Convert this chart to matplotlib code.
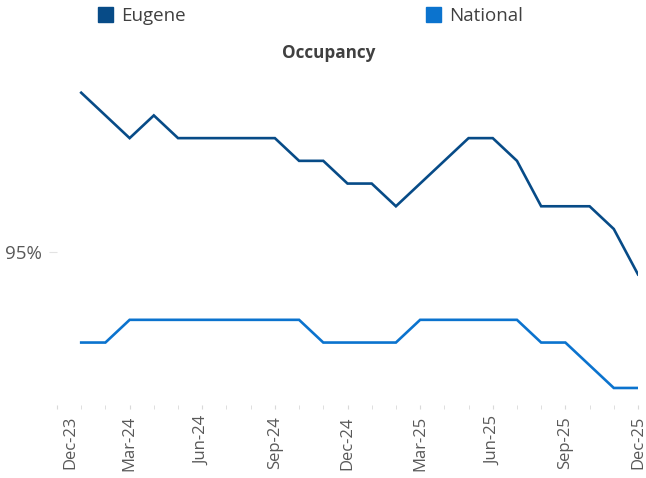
import matplotlib
matplotlib.use('Agg')
import matplotlib.pyplot as plt
import matplotlib.transforms as mtransforms
from matplotlib.patches import Patch
from matplotlib.ticker import FuncFormatter, FixedLocator

plt.rcParams['font.family'] = ['Open Sans', 'DejaVu Sans']

# months on the axis: Dec-23 .. Dec-25, data from Jan-24
axis_months = ['Dec-23', 'Jan-24', 'Feb-24', 'Mar-24', 'Apr-24', 'May-24', 'Jun-24',
               'Jul-24', 'Aug-24', 'Sep-24', 'Oct-24', 'Nov-24', 'Dec-24',
               'Jan-25', 'Feb-25', 'Mar-25', 'Apr-25', 'May-25', 'Jun-25',
               'Jul-25', 'Aug-25', 'Sep-25', 'Oct-25', 'Nov-25', 'Dec-25']
eugene = [95.7, 95.6, 95.5, 95.6, 95.5, 95.5, 95.5, 95.5, 95.5, 95.4, 95.4, 95.3,
          95.3, 95.2, 95.3, 95.4, 95.5, 95.5, 95.4, 95.2, 95.2, 95.2, 95.1, 94.9]
national = [94.6, 94.6, 94.7, 94.7, 94.7, 94.7, 94.7, 94.7, 94.7, 94.7, 94.6, 94.6,
            94.6, 94.6, 94.7, 94.7, 94.7, 94.7, 94.7, 94.6, 94.6, 94.5, 94.4, 94.4]
label_months = axis_months[::3]

c_eug = '#074B87'
c_nat = '#0B73CE'
grey = '#595959'

fig = plt.figure(figsize=(6.46, 4.78), dpi=100)
ax = fig.add_axes([57/646, 1 - 405/478, (638 - 57)/646, (405 - 70)/478])

xs = list(range(1, len(eugene) + 1))
ax.plot(xs, eugene, color=c_eug, lw=1.9, solid_joinstyle='miter')
ax.plot(xs, national, color=c_nat, lw=1.9, solid_joinstyle='miter')

ax.set_xlim(0, len(axis_months) - 1)
ax.set_ylim(94.325, 95.8)

ax.set_xticks(range(0, len(axis_months), 3))
ax.set_xticklabels(label_months, rotation=90, fontsize=12, color=grey)
ax.xaxis.set_minor_locator(FixedLocator(range(len(axis_months))))
ax.tick_params(axis='x', which='both', length=3, color='#D9D9D9', pad=5)

ax.set_yticks([95])
ax.yaxis.set_major_formatter(FuncFormatter(lambda v, p: '%d%%' % round(v)))
ax.tick_params(axis='y', length=6, color='#E3E3E3', labelsize=13.5, labelcolor=grey, pad=5)

for s in ax.spines.values():
    s.set_visible(False)

# first label sits a bit right of its tick in the original
lab0 = ax.get_xticklabels()[0]
lab0.set_transform(lab0.get_transform() + mtransforms.ScaledTranslation(0.13, 0, fig.dpi_scale_trans))

fig.text(329/646, 1 - 53/478, 'Occupancy', ha='center', va='center',
         fontsize=12.3, fontweight='bold', color='#404040')

for name, col, x0 in [('Eugene', c_eug, 98), ('National', c_nat, 426)]:
    fig.legend(handles=[Patch(color=col, label=name)], loc='center left',
               bbox_to_anchor=(x0/646, 1 - 16/478), frameon=False, fontsize=13.5,
               handlelength=0.8, handleheight=0.8, handletextpad=0.45,
               labelcolor='#404040', borderpad=0, borderaxespad=0)

fig.savefig('out.png', dpi=100)
